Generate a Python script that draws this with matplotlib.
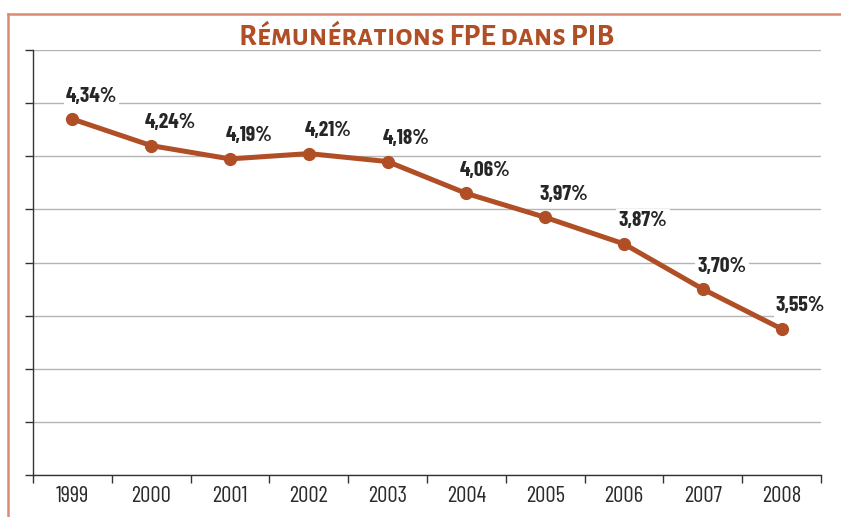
import matplotlib.pyplot as plt
from matplotlib.lines import Line2D

years = ['1999', '2000', '2001', '2002', '2003', '2004', '2005', '2006', '2007', '2008']
values = [4.34, 4.24, 4.19, 4.21, 4.18, 4.06, 3.97, 3.87, 3.70, 3.55]
labels = ['4,34%', '4,24%', '4,19%', '4,21%', '4,18%', '4,06%', '3,97%', '3,87%', '3,70%', '3,55%']
y_grid = [3.0, 3.2, 3.4, 3.6, 3.8, 4.0, 4.2, 4.4, 4.6]
title = 'Rémunérations FPE dans PIB'

rust = '#b04e26'
border = '#dc8b70'
narrow = ['Barlow Condensed', 'DejaVu Sans']

fig = plt.figure(figsize=(8.41, 5.17), dpi=100)
ax = fig.add_axes([33/841, 1-475/517, (821-33)/841, (475-50)/517])

x = list(range(len(years)))
ax.plot(x, values, color=rust, lw=3.6, marker='o', ms=8.5, zorder=3)

for xi, v, lab in zip(x, values, labels):
    ax.annotate(lab, (xi, v), xytext=(19, 23), textcoords='offset pixels',
                ha='center', va='center', fontsize=15.5, fontweight='bold',
                family=narrow, color='#262626', zorder=4,
                bbox=dict(boxstyle='square,pad=0.1', fc='white', ec='none'))

ax.set_xlim(-0.5, 9.5)
ax.set_ylim(3.0, 4.6)
ax.set_yticks(y_grid)
ax.set_yticklabels([])
ax.yaxis.grid(True, color='#b4b4b4', lw=1)
ax.set_axisbelow(True)

ax.set_xticks([i - 0.5 for i in range(len(years) + 1)])
ax.set_xticklabels([])
ax.set_xticks(x, minor=True)
ax.set_xticklabels(years, minor=True, fontsize=16.5, family=narrow, color='#2b2b2b')
ax.tick_params(axis='x', which='minor', length=0, pad=8)
ax.tick_params(axis='both', which='major', length=6, width=1, color='#333333')

for s in ['top', 'right']:
    ax.spines[s].set_visible(False)
for s in ['left', 'bottom']:
    ax.spines[s].set_color('#333333')
    ax.spines[s].set_linewidth(1)

# orange frame (left + top)
fig.add_artist(Line2D([8/841, 8/841], [0, 1-14/517], transform=fig.transFigure, color=border, lw=1.8))
fig.add_artist(Line2D([8/841, 1], [1-14/517, 1-14/517], transform=fig.transFigure, color=border, lw=1.8))

# title in a small caps face
fig.text(427/841, 1-45/517, title, fontsize=22, fontweight='bold',
         family=['Alegreya Sans SC', 'DejaVu Sans'], color=rust, ha='center', va='baseline')

fig.savefig('out.png', dpi=100)
